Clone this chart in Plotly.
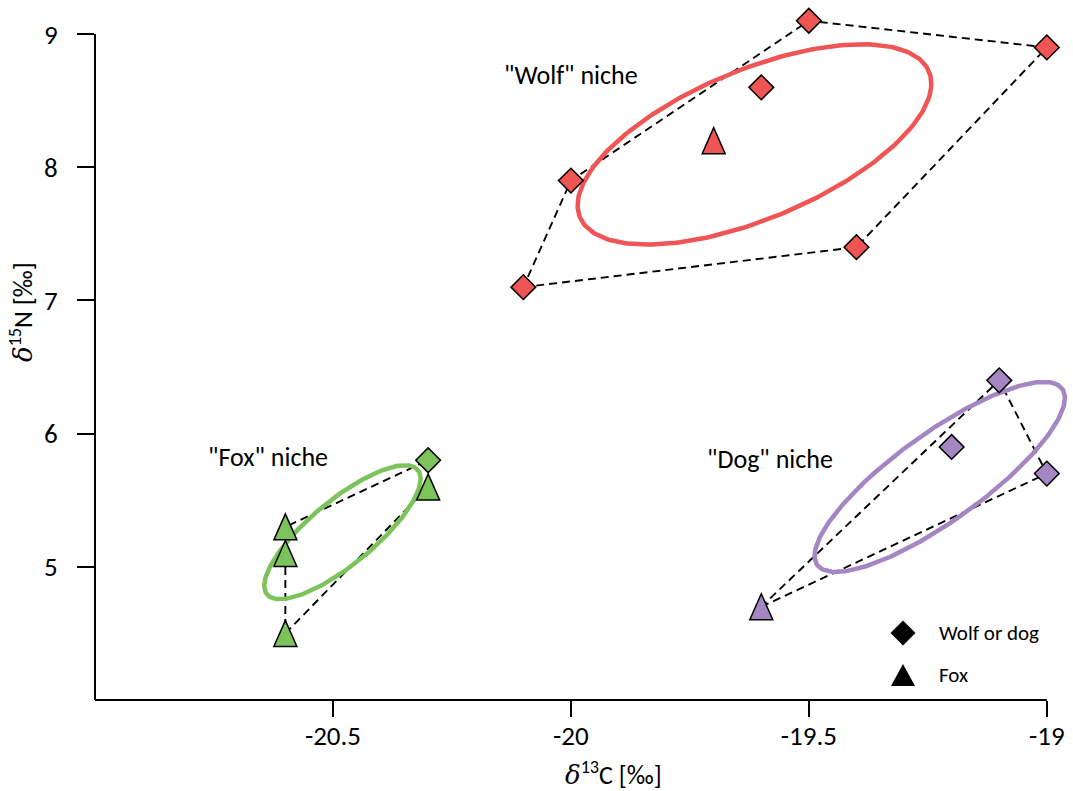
import numpy as np
import plotly.graph_objects as go

# ---------------- data ----------------
groups = ["Wolf", "Fox", "Dog"]
group_colors = {"Wolf": "#EF5555", "Fox": "#7DC35C", "Dog": "#A386C2"}

wolf_diamond_x = [-20.1, -20.0, -19.5, -19.0, -19.4, -19.6]
wolf_diamond_y = [7.1, 7.9, 9.1, 8.9, 7.4, 8.6]
wolf_triangle_x = [-19.7]
wolf_triangle_y = [8.2]

fox_diamond_x = [-20.3]
fox_diamond_y = [5.8]
fox_triangle_x = [-20.6, -20.6, -20.6, -20.3]
fox_triangle_y = [5.3, 5.1, 4.5, 5.6]

dog_diamond_x = [-19.1, -19.2, -19.0]
dog_diamond_y = [6.4, 5.9, 5.7]
dog_triangle_x = [-19.6]
dog_triangle_y = [4.7]

niche_labels = ['"Wolf" niche', '"Fox" niche', '"Dog" niche']
x_ticks = [-20.5, -20, -19.5, -19]
x_tick_text = ["-20.5", "-20", "-19.5", "-19"]
y_ticks = [5, 6, 7, 8, 9]
legend_labels = ["Wolf or dog", "Fox"]

data = {
    "Wolf": (wolf_diamond_x, wolf_diamond_y, wolf_triangle_x, wolf_triangle_y),
    "Fox": (fox_diamond_x, fox_diamond_y, fox_triangle_x, fox_triangle_y),
    "Dog": (dog_diamond_x, dog_diamond_y, dog_triangle_x, dog_triangle_y),
}

FONT = "Carlito, Lato, sans-serif"

# axis extents: drawn axes span x in [X_AX0, X_AX1], y in [Y_AX0, Y_AX1];
# the plotting area extends a bit further so marks near the edges are not clipped
X_AX0, X_AX1 = -21.0, -19.0
Y_AX0, Y_AX1 = 4.0, 9.0
X_RANGE = [X_AX0, -18.945]
Y_RANGE = [Y_AX0, 9.256]


def convex_hull(px, py):
    pts = sorted(set(zip(px, py)))

    def cross(o, a, b):
        return (a[0] - o[0]) * (b[1] - o[1]) - (a[1] - o[1]) * (b[0] - o[0])

    lower, upper = [], []
    for p in pts:
        while len(lower) >= 2 and cross(lower[-2], lower[-1], p) <= 1e-12:
            lower.pop()
        lower.append(p)
    for p in reversed(pts):
        while len(upper) >= 2 and cross(upper[-2], upper[-1], p) <= 1e-12:
            upper.pop()
        upper.append(p)
    hull = lower[:-1] + upper[:-1]
    hull.append(hull[0])
    return [p[0] for p in hull], [p[1] for p in hull]


def standard_ellipse(px, py, n=241):
    xy = np.vstack([px, py])
    mu = xy.mean(axis=1)
    cov = np.cov(xy, ddof=1)
    vals, vecs = np.linalg.eigh(cov)
    t = np.linspace(0, 2 * np.pi, n)
    circ = np.vstack([np.cos(t), np.sin(t)])
    pts = mu[:, None] + vecs @ (np.sqrt(vals)[:, None] * circ)
    return pts[0], pts[1]


fig = go.Figure()
shapes = []

# hulls first (dashed)
for g in groups:
    dx, dy, tx, ty = data[g]
    hx, hy = convex_hull(dx + tx, dy + ty)
    fig.add_trace(go.Scatter(x=hx, y=hy, mode="lines",
                             line=dict(color="black", width=1.9, dash="8px,5px"),
                             showlegend=False, hoverinfo="skip"))

# ellipses
for g in groups:
    dx, dy, tx, ty = data[g]
    ex, ey = standard_ellipse(dx + tx, dy + ty)
    fig.add_trace(go.Scatter(x=ex, y=ey, mode="lines",
                             line=dict(color=group_colors[g], width=4.5),
                             showlegend=False, hoverinfo="skip"))

# diamonds (wolf or dog)
for g in groups:
    dx, dy, tx, ty = data[g]
    fig.add_trace(go.Scatter(x=dx, y=dy, mode="markers", name=g + " wolf or dog",
                             marker=dict(symbol="diamond", size=19, color=group_colors[g],
                                         line=dict(color="black", width=1.5)),
                             showlegend=False, cliponaxis=False))

# triangles (fox) drawn as data-anchored pixel-sized shapes
tri_path = "M-11.5,-13 L11.5,-13 L0,13 Z"
for g in groups:
    dx, dy, tx, ty = data[g]
    for x, y in zip(tx, ty):
        shapes.append(dict(type="path", xref="x", yref="y", xsizemode="pixel", ysizemode="pixel",
                           xanchor=x, yanchor=y, path=tri_path,
                           fillcolor=group_colors[g], line=dict(color="black", width=1.5),
                           layer="above"))

# axis lines (only over the drawn axis extent)
x_end_paper = (X_AX1 - X_RANGE[0]) / (X_RANGE[1] - X_RANGE[0])
y_end_paper = (Y_AX1 - Y_RANGE[0]) / (Y_RANGE[1] - Y_RANGE[0])
shapes.append(dict(type="line", xref="paper", yref="paper", x0=0, x1=x_end_paper, y0=0, y1=0,
                   line=dict(color="black", width=2), layer="above"))
shapes.append(dict(type="line", xref="paper", yref="paper", x0=0, x1=0, y0=0, y1=y_end_paper,
                   line=dict(color="black", width=2), layer="above"))

# paper coordinates of the plotting area (l=95, width=978, b=91, height=700)
PW, PH = 978.0, 700.0


def px_to_paper(px, py):
    return (px - 95) / PW, (700 - py) / PH


# legend (manual)
lx, ly = px_to_paper(903, 633)
shapes.append(dict(type="path", xref="paper", yref="paper", xsizemode="pixel", ysizemode="pixel",
                   xanchor=lx, yanchor=ly, path="M-12.5,0 L0,12.5 L12.5,0 L0,-12.5 Z",
                   fillcolor="black", line=dict(width=0)))
lx, ly = px_to_paper(903, 675)
shapes.append(dict(type="path", xref="paper", yref="paper", xsizemode="pixel", ysizemode="pixel",
                   xanchor=lx, yanchor=ly, path="M-12,-11 L12,-11 L0,11 Z",
                   fillcolor="black", line=dict(width=0)))

annotations = []
for lab, py in zip(legend_labels, [633, 675]):
    xp, yp = px_to_paper(937, py)
    annotations.append(dict(text=lab, xref="paper", yref="paper", x=xp, y=yp,
                            xanchor="left", yanchor="middle", showarrow=False,
                            font=dict(family=FONT, size=21, color="black")))

for lab, (px, py) in zip(niche_labels, [(571, 75), (268, 457), (770, 459)]):
    xp, yp = px_to_paper(px, py)
    annotations.append(dict(text=lab, xref="paper", yref="paper", x=xp, y=yp,
                            xanchor="center", yanchor="middle", showarrow=False,
                            font=dict(family=FONT, size=26, color="black")))

delta = '<span style="font-family:DejaVu Serif"><i>δ</i></span>'
xp, yp = px_to_paper(613, 773)
annotations.append(dict(text=delta + "<sup>13</sup>C [‰]", xref="paper", yref="paper",
                        x=xp, y=yp, xanchor="center", yanchor="middle", showarrow=False,
                        font=dict(family=FONT, size=26, color="black")))
xp, yp = px_to_paper(21, 312)
annotations.append(dict(text=delta + "<sup>15</sup>N [‰]", xref="paper", yref="paper",
                        x=xp, y=yp, xanchor="center", yanchor="middle", showarrow=False,
                        textangle=-90, font=dict(family=FONT, size=26, color="black")))

fig.update_layout(
    width=1073, height=791,
    margin=dict(l=95, r=0, t=0, b=91),
    paper_bgcolor="white", plot_bgcolor="white",
    showlegend=False,
    shapes=shapes, annotations=annotations,
    font=dict(family=FONT, size=27, color="black"),
    xaxis=dict(range=X_RANGE, tickvals=x_ticks, ticktext=x_tick_text,
               showline=False, ticks="outside", ticklen=16, tickwidth=2, tickcolor="black",
               showgrid=False, zeroline=False, ticklabelstandoff=-4,
               tickfont=dict(family=FONT, size=27, color="black")),
    yaxis=dict(range=Y_RANGE, tickvals=y_ticks,
               showline=False, ticks="outside", ticklen=17, tickwidth=2, tickcolor="black",
               showgrid=False, zeroline=False, ticklabelstandoff=14,
               tickfont=dict(family=FONT, size=27, color="black")),
)

fig.write_html("out.html", config={"displayModeBar": False},
               post_script="document.body.style.margin='0';")
